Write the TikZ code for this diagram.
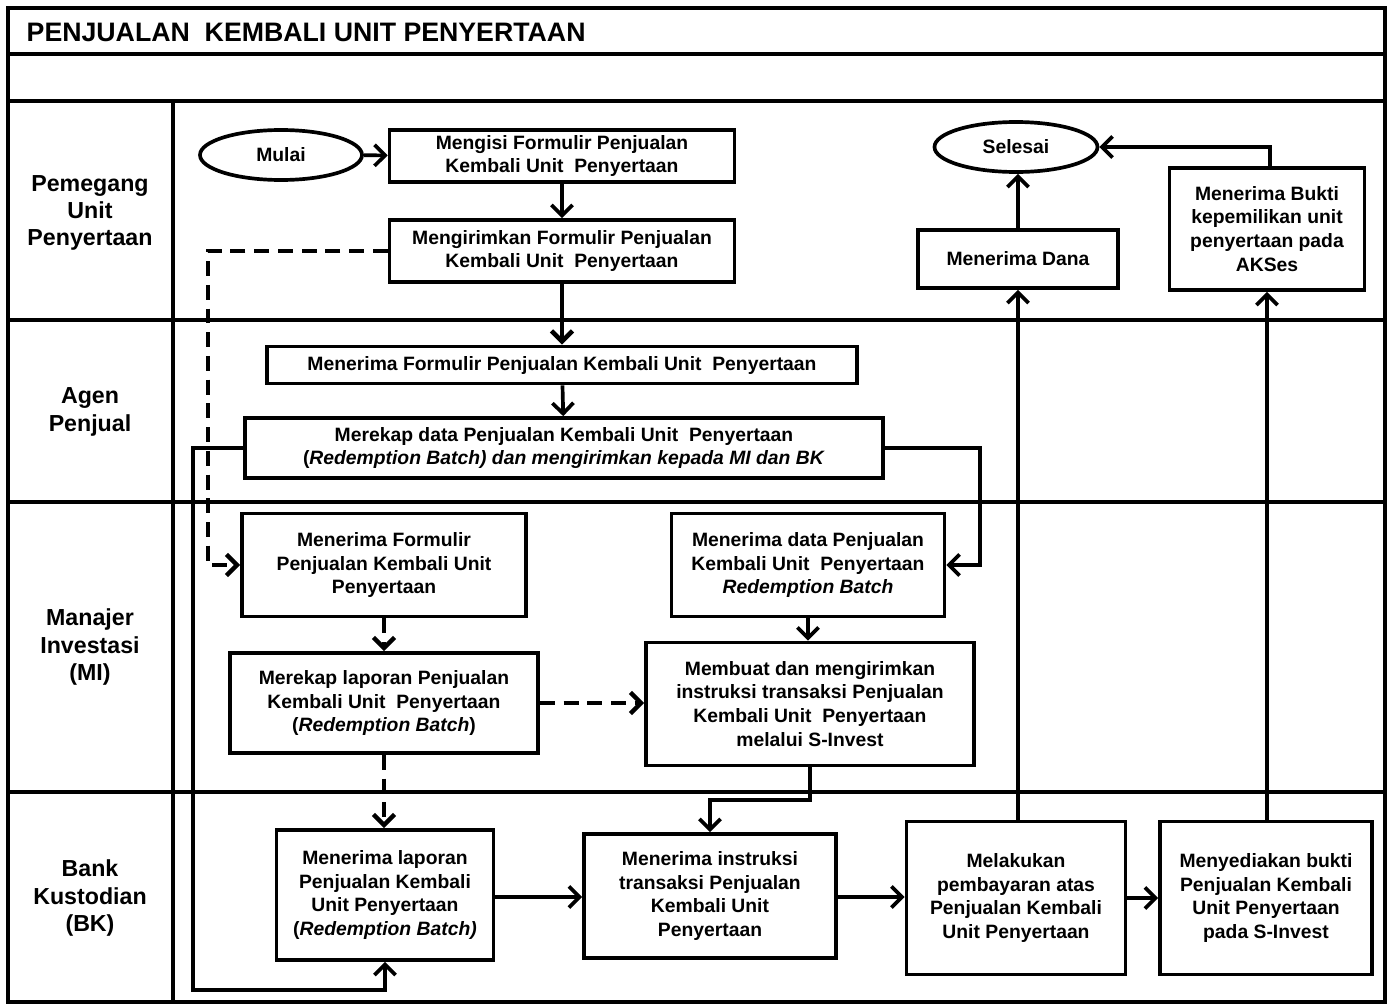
\documentclass[tikz,border=0pt]{standalone}
\usepackage{fontspec}
\setmainfont{Liberation Sans}
\usetikzlibrary{arrows.meta}
\usetikzlibrary{shapes.geometric}

\begin{document}
\begin{tikzpicture}[x=0.02cm,y=-0.02cm,line width=2.1pt,
    box/.style 2 args={draw,rectangle,align=center,inner sep=0pt,
        font=\bfseries\fontsize{11}{13.6}\selectfont,
        minimum width=#1*0.02cm,minimum height=#2*0.02cm},
    term/.style 2 args={draw,ellipse,inner sep=0pt,
        font=\bfseries\fontsize{11}{13.6}\selectfont,
        minimum width=#1*0.02cm,minimum height=#2*0.02cm},
    lane/.style={align=center,font=\bfseries\fontsize{13.2}{15.6}\selectfont},
    flow/.style={-{Straight Barb[length=6pt,width=12pt]}},
    dflow/.style={flow,line width=2.5pt,dash pattern=on 8.5pt off 5pt}]
    \useasboundingbox (0,0) rectangle (1392,1004);

    % frame and swimlanes
    \draw (8,8) rectangle (1385,1002);
    \draw (8,54) -- (1385,54);
    \draw (8,101) -- (1385,101);
    \draw (173,101) -- (173,1002);
    \foreach \y in {320,502,792}
        \draw (8,\y) -- (1385,\y);

    \node[anchor=west,font=\bfseries\fontsize{15.2}{18}\selectfont] (title) at (19,32) {PENJUALAN~ KEMBALI UNIT PENYERTAAN};

    \node[lane] (PUP) at (90,213) {Pemegang\\Unit\\Penyertaan};
    \node[lane] (AP) at (90,412) {Agen\\Penjual};
    \node[lane] (MI) at (90,647) {Manajer\\Investasi\\(MI)};
    \node[lane] (BK) at (90,898) {Bank\\Kustodian\\(BK)};

    % Pemegang Unit Penyertaan
    \node[term={162}{50}] (mulai) at (281,155) {Mulai};
    \node[box={345}{52}] (isi) at (562,156) {Mengisi Formulir Penjualan\\Kembali Unit~ Penyertaan};
    \node[box={345}{62}] (kirim) at (562,251) {Mengirimkan Formulir Penjualan\\Kembali Unit~ Penyertaan};
    \node[term={163}{50}] (selesai) at (1016,147) {Selesai};
    \node[box={200}{58}] (dana) at (1018,259) {Menerima Dana};
    \node[box={195}{122}] (bukti) at (1267,229) {Menerima Bukti\\kepemilikan unit\\penyertaan pada\\AKSes};

    % Agen Penjual
    \node[box={590}{37}] (terimaAP) at (562,365) {Menerima Formulir Penjualan Kembali Unit~ Penyertaan};
    \node[box={638}{60}] (rekapAP) at (564,448) {Merekap data Penjualan Kembali Unit~ Penyertaan\\(\textit{Redemption Batch) dan mengirimkan kepada MI dan BK}};

    % Manajer Investasi
    \node[box={284}{103}] (terimaMI) at (384,565) {Menerima Formulir\\Penjualan Kembali Unit\\Penyertaan};
    \node[box={273}{103}] (dataMI) at (808,565) {Menerima data Penjualan\\Kembali Unit~ Penyertaan\\\textit{Redemption Batch}};
    \node[box={308}{100}] (rekapMI) at (384,703) {Merekap laporan Penjualan\\Kembali Unit~ Penyertaan\\(\textit{Redemption Batch})};
    \node[box={328}{123}] (instMI) at (810,704) {Membuat dan mengirimkan\\instruksi transaksi Penjualan\\Kembali Unit~ Penyertaan\\melalui S-Invest};

    % Bank Kustodian
    \node[box={217}{130}] (lapBK) at (385,895) {Menerima laporan\\Penjualan Kembali\\Unit Penyertaan\\(\textit{Redemption Batch)}};
    \node[box={252}{124}] (instBK) at (710,896) {Menerima instruksi\\transaksi Penjualan\\Kembali Unit\\Penyertaan};
    \node[box={219}{153}] (bayar) at (1016,898) {Melakukan\\pembayaran atas\\Penjualan Kembali\\Unit Penyertaan};
    \node[box={212}{153}] (sedia) at (1266,898) {Menyediakan bukti\\Penjualan Kembali\\Unit Penyertaan\\pada S-Invest};

    % connectors
    \draw[flow] (mulai) -- (isi);
    \draw[flow] (isi) -- (kirim);
    \draw[flow,line width=2.6pt] (kirim) -- (terimaAP);
    \draw[flow] (terimaAP) -- (rekapAP);
    \draw[dflow] (kirim.west) -| (208,565) -- (terimaMI.west);
    \draw[flow] (rekapAP.west) -| (193,990) -| (lapBK.south);
    \draw[flow] (rekapAP.east) -| (980,565) -- (dataMI.east);
    \draw[dflow] (terimaMI) -- (rekapMI);
    \draw[flow] (dataMI.south) -- (dataMI.south |- instMI.north);
    \draw[dflow] (rekapMI.east) -- (rekapMI.east -| instMI.west);
    \draw[dflow] (rekapMI) -- (rekapMI |- lapBK.north);
    \draw[flow] (instMI.south) |- (710,800) -- (instBK.north);
    \draw[flow] (lapBK.east |- 0,897) -- (instBK.west |- 0,897);
    \draw[flow] (instBK.east |- 0,897) -- (bayar.west |- 0,897);
    \draw[flow] (bayar) -- (sedia);
    \draw[flow] (1018,822) -- (dana.south -| 1018,0);
    \draw[flow] (sedia.north -| 1267,0) -- (bukti.south -| 1267,0);
    \draw[flow] (dana.north -| 1018,0) -- (selesai.south -| 1018,0);
    \draw[flow] (bukti.north -| 1270,0) |- (selesai.east);
\end{tikzpicture}
\end{document}
